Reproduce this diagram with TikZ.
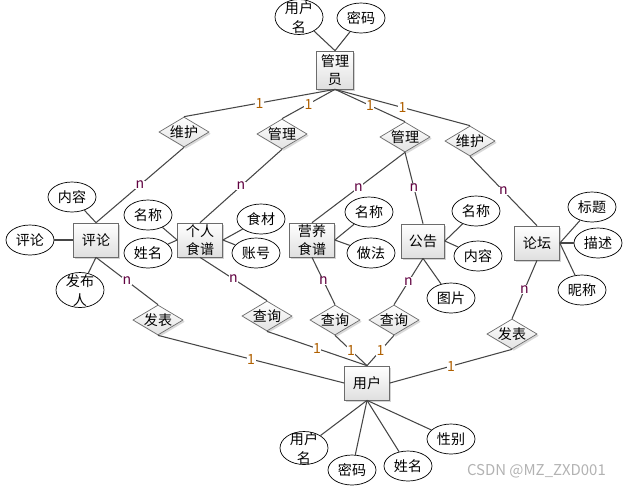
\documentclass[tikz,border=0pt]{standalone}
\usepackage{fontspec}
\setmainfont{Noto Sans CJK SC}
\usetikzlibrary{shapes.geometric,shadows}

\definecolor{onecol}{RGB}{176,96,0}
\definecolor{manycol}{RGB}{96,0,64}
% two rows of text that may stick out of a small ellipse
\newcommand{\tworow}[1]{\smash{\raisebox{-.5\height}{\shortstack{#1}}}}

\begin{document}
\begin{tikzpicture}[x=0.02cm, y=-0.02cm, font=\fontsize{8}{10.5}\selectfont,
  entity/.style={draw=gray!85!black, top color=white, bottom color=gray!25,
    drop shadow={shadow xshift=1pt, shadow yshift=-1pt, opacity=0.35},
    minimum width=0.9cm, minimum height=0.68cm, inner sep=0.5pt, align=center},
  rel/.style={diamond, aspect=1.7, draw=gray!85!black, top color=white, bottom color=gray!22,
    drop shadow={shadow xshift=1pt, shadow yshift=-1pt, opacity=0.3},
    minimum width=1cm, minimum height=0.6cm, inner sep=0pt},
  attr/.style={ellipse, draw=black, fill=white, minimum width=0.96cm,
    minimum height=0.6cm, inner sep=0pt},
  link/.style={draw=gray!55!black, line width=0.6pt},
  one/.style={midway, fill=white, inner sep=0.3pt, text=onecol},
  many/.style={midway, fill=white, inner sep=0.3pt, text=manycol}]
\useasboundingbox (0,0) rectangle (625,488);

% entities
\node[entity, minimum width=0.74cm, minimum height=0.76cm] (admin) at (335,70) {管理\\员};
\node[entity] (comment) at (96,240) {评论};
\node[entity] (recipe) at (200,240) {个人\\食谱};
\node[entity] (nutri) at (312,240) {营养\\食谱};
\node[entity, minimum width=0.86cm] (notice) at (423,241) {公告};
\node[entity] (forum) at (537,243) {论坛};
\node[entity] (user) at (367,383) {用户};

% relationships
\node[rel] (keep1) at (184,132) {维护};
\node[rel] (manage1) at (282,134) {管理};
\node[rel] (manage2) at (405,137) {管理};
\node[rel] (keep2) at (470,141) {维护};
\node[rel] (post1) at (158,320) {发表};
\node[rel] (query1) at (267,316) {查询};
\node[rel] (query2) at (335,320) {查询};
\node[rel] (query3) at (394,320) {查询};
\node[rel] (post2) at (512,334) {发表};

% attributes
\node[attr, minimum height=0.7cm] (aname) at (299,17) {\tworow{用户\\名}};
\node[attr, minimum height=0.7cm] (cposter) at (80,290) {\tworow{发布\\人}};
\node[attr, minimum height=0.66cm] (uname) at (304,448) {\tworow{用户\\名}};
\draw[link] (aname) -- (admin.north);
\draw[link] (cposter) -- (comment.south);
\draw[link] (uname) -- (user.south);
\foreach \n/\p/\t/\e in {apwd/{(361,18)}/密码/admin.north,
    ccontent/{(72,197)}/内容/comment.north, ctitle/{(30,240)}/评论/comment.west,
    rname/{(148,215)}/名称/recipe.west, ruser/{(148,253)}/姓名/recipe.west,
    rfood/{(261,219)}/食材/recipe.east, racc/{(256,253)}/账号/recipe.east,
    nname/{(369,212)}/名称/nutri.east, nway/{(371,253)}/做法/nutri.east,
    oname/{(476,211)}/名称/notice.east, ocontent/{(478,256)}/内容/notice.east,
    opic/{(451,298)}/图片/notice.south,
    ftitle/{(592,207)}/标题/forum.east, fdesc/{(598,243)}/描述/forum.east,
    fnick/{(582,290)}/昵称/forum.east,
    upwd/{(352,470)}/密码/user.south, urname/{(408,466)}/姓名/user.south,
    usex/{(451,439)}/性别/user.south}{
  \node[attr] (\n) at \p {\t};
  \draw[link] (\n) -- (\e);
}

% admin side
\draw[link] (admin.south) -- (keep1.north) node[one] {1};
\draw[link] (admin.south) -- (manage1.north) node[one] {1};
\draw[link] (admin.south) -- (manage2.north) node[one] {1};
\draw[link] (admin.south) -- (keep2.north) node[one] {1};
\draw[link] (keep1.south) -- (comment.north) node[many] {n};
\draw[link] (manage1.south) -- (recipe.north) node[many] {n};
\draw[link] (manage2.south) -- (nutri.north) node[many] {n};
\draw[link] (manage2.south) -- (notice.north) node[many] {n};
\draw[link] (keep2.south) -- (forum.north) node[many] {n};

% user side
\draw[link] (comment.south) -- (post1.north) node[many] {n};
\draw[link] (recipe.south) -- (query1.north) node[many] {n};
\draw[link] (nutri.south) -- (query2.north) node[many] {n};
\draw[link] (notice.south) -- (query3.north) node[many] {n};
\draw[link] (forum.south) -- (post2.north) node[many] {n};
\draw[link] (post1.south) -- (user.west) node[one] {1};
\draw[link] (query1.south) -- (user.north) node[one] {1};
\draw[link] (query2.south) -- (user.north) node[one] {1};
\draw[link] (query3.south) -- (user.north) node[one] {1};
\draw[link] (post2.south) -- (user.east) node[one] {1};

\node[text=gray!60, font=\fontsize{8.5}{10}\selectfont, anchor=east] (mark) at (612,471) {CSDN @MZ\_ZXD001};
\end{tikzpicture}
\end{document}
